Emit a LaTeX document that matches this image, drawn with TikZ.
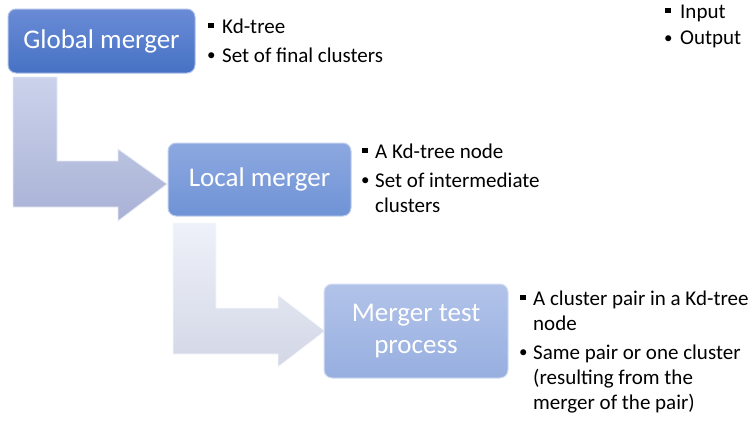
\documentclass[tikz,border=0pt]{standalone}
\usepackage{fontspec}
\setmainfont{Carlito}
\definecolor{bAtop}{HTML}{6A8BD6}
\definecolor{bAbot}{HTML}{4672C4}
\definecolor{bBtop}{HTML}{8DA8E0}
\definecolor{bBbot}{HTML}{6F93D6}
\definecolor{bCtop}{HTML}{B2C3E9}
\definecolor{bCbot}{HTML}{97AFE0}
\definecolor{aAtop}{HTML}{CBD2EB}
\definecolor{aAbot}{HTML}{A9B2D6}
\definecolor{aBtop}{HTML}{EEF1F9}
\definecolor{aBbot}{HTML}{D3D7E6}
\newcommand\sqbul{\raisebox{5pt}{\rule{5.5pt}{5.5pt}}}
\newcommand\rdbul{\raisebox{1.5pt}{\fontsize{17}{20}\selectfont •}}
\begin{document}
\begin{tikzpicture}[x=1pt,y=-1pt,
  procbox/.style={rounded corners=8pt, line width=1pt, text=white,
    font=\fontsize{27}{32}\selectfont, align=center, inner sep=0pt},
  itemtxt/.style={anchor=base west, inner sep=0pt, font=\fontsize{21}{25}\selectfont},
  bentarrow/.style={line width=0.8pt}]
\useasboundingbox (0,0) rectangle (753,423);

% bent arrows
\shade[bentarrow, top color=aAtop, bottom color=aAbot, draw=white!55!aAtop]
  (13,77) -- (57,77) -- (57,161) -- (118,161) -- (118,149) -- (167,184)
  -- (118,221) -- (118,207) -- (13,207) -- cycle;
\shade[bentarrow, top color=aBtop, bottom color=aBbot, draw=white!55!aBtop]
  (173,223) -- (216,223) -- (216,308) -- (278,308) -- (278,295) -- (325,331)
  -- (278,367) -- (278,354) -- (173,354) -- cycle;

% boxes
\node[procbox, top color=bAtop, bottom color=bAbot, draw=white!45!bAtop,
  minimum width=187pt, minimum height=64pt] (g) at (101.5,41) {\raisebox{-2pt}{Global merger}};
\node[procbox, top color=bBtop, bottom color=bBbot, draw=white!45!bBtop,
  minimum width=183pt, minimum height=73pt] (l) at (259.5,179.5) {\raisebox{-2pt}{Local merger}};
\node[procbox, top color=bCtop, bottom color=bCbot, draw=white!45!bCtop,
  minimum width=184pt, minimum height=94pt] (m) at (416,331) {Merger test\\process};

% box 1 list
\node[itemtxt] (g1b) at (208,33) {\sqbul};
\node[itemtxt] (g1t) at (222,33) {Kd-tree};
\node[itemtxt] (g2b) at (207,62) {\rdbul};
\node[itemtxt] (g2t) at (222,62) {Set of final clusters};

% box 2 list
\node[itemtxt] (l1b) at (362,158) {\sqbul};
\node[itemtxt] (l1t) at (375,158) {A Kd-tree node};
\node[itemtxt] (l2b) at (361,187) {\rdbul};
\node[itemtxt] (l2t) at (375,187) {Set of intermediate};
\node[itemtxt] (l2u) at (375,212) {clusters};

% box 3 list
\node[itemtxt] (m1b) at (520,305) {\sqbul};
\node[itemtxt] (m1t) at (533,305) {A cluster pair in a Kd-tree};
\node[itemtxt] (m1u) at (533,330) {node};
\node[itemtxt] (m2b) at (519,359) {\rdbul};
\node[itemtxt] (m2t) at (533,359) {Same pair or one cluster};
\node[itemtxt] (m2u) at (533,384) {(resulting from the};
\node[itemtxt] (m2v) at (533,409) {merger of the pair)};

% legend
\node[itemtxt] (k1b) at (665,18) {\sqbul};
\node[itemtxt] (k1t) at (680,18) {Input};
\node[itemtxt] (k2b) at (664,45) {\rdbul};
\node[itemtxt] (k2t) at (680,45) {Output};
\end{tikzpicture}
\end{document}
